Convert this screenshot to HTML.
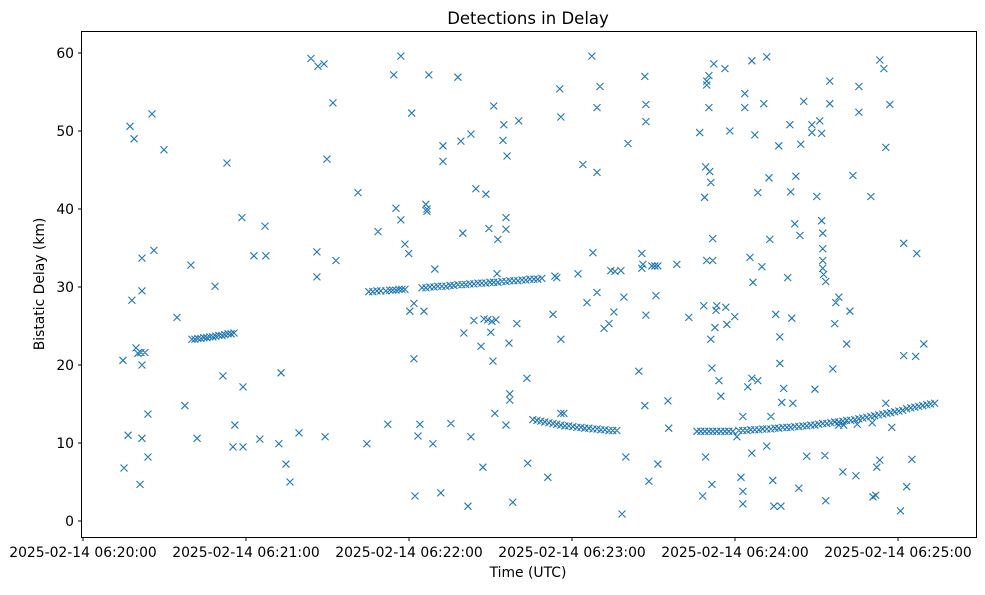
<!DOCTYPE html>
<html><head><meta charset="utf-8"><title>Detections in Delay</title>
<style>
body{margin:0;background:#fff;width:985px;height:590px;overflow:hidden;font-family:"Liberation Sans","DejaVu Sans",sans-serif;}
svg text{font-family:"DejaVu Sans","Liberation Sans",sans-serif;fill:#000;}
</style></head>
<body>
<svg id="chart" width="985" height="590" xmlns="http://www.w3.org/2000/svg">
<rect x="0" y="0" width="985" height="590" fill="#fff"/>
<text x="528" y="24" font-size="16.5" text-anchor="middle">Detections in Delay</text>
<g id="marks"></g>
<g id="xaxis"></g>
<g id="yaxis"></g>
<rect x="81.5" y="31.5" width="895" height="506" fill="none" stroke="#000" stroke-width="1"/>
<text x="528" y="577" font-size="13.9" text-anchor="middle">Time (UTC)</text>
<text transform="translate(44,284) rotate(-90)" font-size="13.9" text-anchor="middle">Bistatic Delay (km)</text>
</svg>
<script>
// seconds after 2025-02-14 06:20:00 and bistatic delay in km
const xTickSeconds=[0,60,120,180,240,300];
const xTickLabels=["2025-02-14 06:20:00","2025-02-14 06:21:00","2025-02-14 06:22:00","2025-02-14 06:23:00","2025-02-14 06:24:00","2025-02-14 06:25:00"];
const yTickValues=[0,10,20,30,40,50,60];

const earlyT=[14.7,16.6,15.1,17.3,18.8,18.0,19.5,20.2,21.3,22.8,21.7,21.7,21.7,21.7,21.0,23.9,23.9,25.4,26.1,29.8,34.6,37.5,39.7,42.0,
40.1,41.2,42.3,43.4,44.5,45.6,46.7,47.8,48.9,50.0,51.1,52.2,53.4,54.5,55.6,
48.6,51.5,53.0,55.2,55.9,58.5,58.9,58.9,62.9,67.0,67.3,65.1,72.1,72.9,74.7,76.2,79.5,83.9,86.5,88.7,86.1,86.1,89.1,89.8,92.0,93.1,101.2,104.5,108.6,112.2,114.4,117.0,
105.2,106.7,108.2,109.6,111.5,112.9,114.0,115.2,116.3,117.4,118.5,115.2,117.0,118.5,119.9];
const earlyD=[20.6,11.0,6.8,50.6,49.0,28.3,22.2,21.5,21.6,21.6,20.0,33.7,29.5,10.6,4.7,13.7,8.2,52.2,34.7,47.6,26.1,14.8,32.8,10.6,
23.3,23.3,23.4,23.4,23.5,23.5,23.6,23.6,23.7,23.8,23.8,23.9,24.0,24.0,24.1,
30.1,18.6,45.9,9.5,12.3,38.9,17.2,9.5,34.0,37.8,34.0,10.5,9.9,19.0,7.3,5.0,11.3,59.3,58.3,58.6,34.5,31.3,10.8,46.4,53.6,33.4,42.1,9.9,37.1,12.4,57.2,59.6,
29.4,29.4,29.5,29.5,29.5,29.6,29.6,29.6,29.7,29.7,29.7,40.1,38.6,35.5,34.3];

const midT=[120.3,121.8,121.0,121.8,123.3,124.0,122.2,125.5,126.2,126.6,126.6,127.3,128.8,129.5,131.7,132.5,132.5,135.4,138.0,139.1,139.8,140.2,141.7,142.8,142.8,143.9,144.6,146.5,147.2,148.3,149.4,150.1,150.9,151.2,151.6,152.4,152.7,154.6,154.9,155.7,155.7,156.1,156.8,157.1,157.1,155.7,158.2,159.7,160.4,163.4,163.7,
124.8,126.2,127.7,129.2,130.6,132.1,133.6,135.1,136.5,138.0,139.5,140.9,142.4,143.9,145.4,146.8,148.3,149.8,151.2,152.7,154.2,155.7,157.1,158.6,160.1,161.6,163.0,164.5,166.0,167.4,168.9,
147.6,149.0,150.5,152.0,
171.1,173.0,173.7,174.4,175.5,175.9,175.9,175.9,182.2,184.0,185.5,187.3,187.7,189.2,189.2,189.2,190.3,191.8,193.6,194.3,195.8,198.0,195.4,199.1,198.4,199.8,200.6,204.6,205.7,206.1,205.7,207.2,207.2,206.8,207.2,206.8,208.3,209.4,210.5,211.6,210.9,211.6,215.3,215.6,218.6,177.0,
165.6,167.1,168.5,170.0,171.5,173.0,174.4,175.9,177.4,178.8,180.3,181.8,183.3,184.7,186.2,187.7,189.2,190.6,192.1,193.6,195.0,196.5];
const midD=[26.9,27.9,52.3,20.8,10.9,12.4,3.2,26.9,40.6,39.7,40.0,57.2,9.9,32.3,3.6,48.1,46.1,12.5,56.9,48.7,36.9,24.1,1.9,49.6,10.8,25.7,42.6,22.4,6.9,41.9,37.5,24.2,20.5,53.2,13.8,31.7,36.1,48.8,50.8,38.9,37.4,46.8,22.8,16.3,15.5,12.3,2.4,25.3,51.3,18.3,7.4,
29.9,29.9,30.0,30.0,30.1,30.1,30.1,30.2,30.2,30.3,30.3,30.3,30.4,30.4,30.5,30.5,30.5,30.6,30.6,30.6,30.7,30.7,30.8,30.8,30.8,30.9,30.9,31.0,31.0,31.0,31.1,
25.9,25.8,25.6,25.8,
5.6,26.5,31.4,31.2,55.4,51.8,23.3,13.8,31.7,45.7,28.0,59.6,34.4,29.3,44.7,53.0,55.7,24.7,25.3,32.1,32.0,32.1,26.8,28.7,0.9,8.2,48.4,19.2,34.3,32.9,32.4,53.4,51.2,57.0,26.4,14.8,5.1,32.7,32.7,32.7,28.9,7.3,15.4,11.9,32.9,13.8,
13.0,12.9,12.8,12.7,12.6,12.5,12.4,12.3,12.2,12.2,12.1,12.0,12.0,11.9,11.9,11.8,11.8,11.7,11.7,11.6,11.6,11.6];

const lateT=[223.0,227.0,228.1,228.5,228.8,229.2,229.2,230.7,231.1,229.6,231.8,229.6,229.6,230.4,230.4,231.1,231.8,231.5,231.5,232.2,232.6,233.0,233.3,234.8,234.1,236.3,236.6,237.0,238.1,239.9,240.7,242.2,242.9,242.9,242.9,243.6,243.6,244.7,245.5,246.2,246.2,246.6,246.2,247.3,248.4,248.4,249.9,250.6,251.7,251.7,252.5,252.8,253.2,254.3,256.9,253.9,255.0,256.1,256.5,256.5,257.2,257.9,259.4,260.2,260.5,260.9,261.3,262.4,262.0,263.9,263.5,264.2,265.3,266.4,268.3,268.3,269.4,270.1,271.2,271.9,
271.9,272.3,272.3,272.3,272.3,272.6,273.4,273.1,273.4,274.9,274.9,276.0,276.7,277.1,278.2,279.7,281.1,282.3,283.4,284.5,285.6,285.6,290.0,290.8,291.8,292.2,293.3,293.3,294.8,295.5,297.0,295.5,297.7,300.9,302.1,302.1,303.2,305.1,306.5,306.9,309.5,
226.0,227.4,228.9,230.4,231.8,233.3,234.8,236.3,237.7,239.2,
241.4,242.9,244.4,245.8,247.3,248.8,250.2,251.7,253.2,254.7,256.1,257.6,259.1,260.5,262.0,263.5,265.0,266.4,267.9,269.4,270.8,272.3,273.8,275.3,276.7,278.2,279.7,281.1,282.6,284.1,285.6,287.0,288.5,290.0,291.4,292.9,294.4,295.9,297.3,298.8,300.3,301.7,303.2,304.7,306.2,307.6,309.1,310.6,312.0,313.5,
278.2,280.0,285.0,290.5];
const lateD=[26.1,49.8,3.2,27.6,41.5,8.2,45.4,44.8,43.4,33.4,33.4,55.9,56.4,57.1,53.0,23.3,36.2,19.6,4.7,58.6,24.8,27.0,27.6,16.0,18.0,58.0,27.4,25.2,50.0,26.2,10.8,5.6,3.8,2.2,13.4,53.0,54.8,17.2,33.8,18.3,8.7,30.6,59.0,49.5,42.1,18.0,32.6,53.5,59.5,9.6,44.0,36.1,13.4,1.9,1.9,5.2,26.5,48.1,23.6,20.2,15.2,17.0,31.2,50.8,42.2,26.0,15.1,44.2,38.1,36.6,4.2,48.3,53.8,8.3,49.8,50.8,16.9,41.6,51.3,49.7,
38.5,36.9,34.9,33.4,32.4,31.6,30.7,8.4,2.6,53.5,56.4,19.5,25.3,28.0,28.7,6.3,22.7,26.9,44.3,5.8,52.4,55.7,41.6,3.1,3.3,6.9,7.8,59.1,58.0,47.9,53.4,15.1,12.0,1.3,35.6,21.2,4.4,7.9,21.1,34.3,22.7,
11.5,11.5,11.5,11.5,11.5,11.5,11.5,11.5,11.5,11.5,
11.6,11.6,11.6,11.7,11.7,11.7,11.8,11.8,11.8,11.9,11.9,12.0,12.0,12.0,12.1,12.1,12.2,12.2,12.3,12.3,12.4,12.5,12.5,12.6,12.7,12.7,12.8,12.9,12.9,13.0,13.1,13.2,13.3,13.4,13.5,13.6,13.7,13.8,13.9,14.0,14.1,14.2,14.4,14.5,14.6,14.7,14.8,14.9,15.0,15.1,
12.3,12.3,12.4,12.6];

const NS="http://www.w3.org/2000/svg";
function xScale(t){return 83+t*(163/60);}
function yScale(d){return 521-d*7.8;}
const marks=document.getElementById('marks');
function drawSeries(ts,ds){
  let dstr="";
  for(let i=0;i<ts.length;i++){
    const x=xScale(ts[i]),y=yScale(ds[i]),s=3.5;
    dstr+=`M${x-s},${y-s}L${x+s},${y+s}M${x-s},${y+s}L${x+s},${y-s}`;
  }
  const p=document.createElementNS(NS,'path');
  p.setAttribute('d',dstr);
  p.setAttribute('stroke','#1f77b4');
  p.setAttribute('stroke-width','1.1');
  p.setAttribute('fill','none');
  
  
  marks.appendChild(p);
}
drawSeries(earlyT,earlyD);
drawSeries(midT,midD);
drawSeries(lateT,lateD);

const xaxis=document.getElementById('xaxis');
xTickSeconds.forEach((s,i)=>{
  const x=xScale(s);
  const l=document.createElementNS(NS,'line');
  l.setAttribute('x1',x);l.setAttribute('x2',x);l.setAttribute('y1',537.5);l.setAttribute('y2',541);
  l.setAttribute('stroke','#000');
  
  
  xaxis.appendChild(l);
  const t=document.createElementNS(NS,'text');
  t.setAttribute('x',x);t.setAttribute('y',557);t.setAttribute('font-size','13.9');t.setAttribute('text-anchor','middle');
  t.textContent=xTickLabels[i];
  
  
  xaxis.appendChild(t);
});
const yaxis=document.getElementById('yaxis');
yTickValues.forEach(v=>{
  const y=yScale(v);
  const l=document.createElementNS(NS,'line');
  l.setAttribute('x1',78);l.setAttribute('x2',81.5);l.setAttribute('y1',y);l.setAttribute('y2',y);
  l.setAttribute('stroke','#000');
  
  
  yaxis.appendChild(l);
  const t=document.createElementNS(NS,'text');
  t.setAttribute('x',74);t.setAttribute('y',y+5);t.setAttribute('font-size','13.9');t.setAttribute('text-anchor','end');
  t.textContent=String(v);
  
  
  yaxis.appendChild(t);
});
</script>
</body></html>
